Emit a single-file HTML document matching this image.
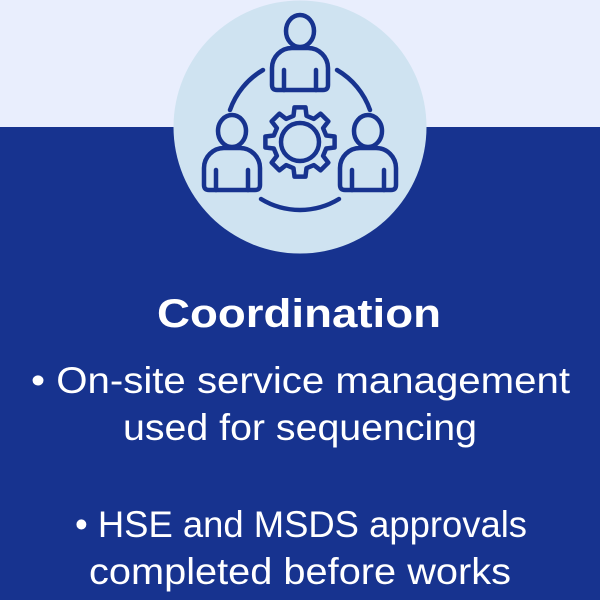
<!DOCTYPE html>
<html><head><meta charset="utf-8"><style>
html,body{margin:0;padding:0;width:600px;height:600px;overflow:hidden;background:#e9eefd}
</style></head><body>
<svg width="600" height="600" viewBox="0 0 600 600" xmlns="http://www.w3.org/2000/svg">
<rect x="0" y="0" width="600" height="127" fill="#e9eefd"/>
<rect x="0" y="127" width="600" height="473" fill="#17338f"/>
<circle cx="300" cy="127" r="126.5" fill="#cfe3f1"/>
<g fill="none" stroke="#17338f" stroke-width="4.5" stroke-linecap="round" stroke-linejoin="round">
  <g id="p">
    <ellipse cx="300" cy="31" rx="14" ry="16"/>
    <path d="M277,90 Q272,90 272,85 V68 A20,20 0 0 1 292,48 H308 A20,20 0 0 1 328,68 V85 Q328,90 323,90 Z"/>
    <line x1="284" y1="70" x2="284" y2="90"/>
    <line x1="316" y1="70" x2="316" y2="90"/>
  </g>
  <use href="#p" transform="translate(-68,100)"/>
  <use href="#p" transform="translate(68,100)"/>
  <path d="M230,110 A75,75 0 0 1 263,70"/>
  <path d="M337,70 A75,75 0 0 1 370,110"/>
  <path d="M339,199 A75,75 0 0 1 261,199"/>
  <g transform="translate(300,142)">
    <path d="M26.2,-6.5 L34.6,-5.5 L34.6,5.5 L26.2,6.5 L23.1,13.9 L28.3,20.6 L20.6,28.3 L13.9,23.1 L6.5,26.2 L5.5,34.6 L-5.5,34.6 L-6.5,26.2 L-13.9,23.1 L-20.6,28.3 L-28.3,20.6 L-23.1,13.9 L-26.2,6.5 L-34.6,5.5 L-34.6,-5.5 L-26.2,-6.5 L-23.1,-13.9 L-28.3,-20.6 L-20.6,-28.3 L-13.9,-23.1 L-6.5,-26.2 L-5.5,-34.6 L5.5,-34.6 L6.5,-26.2 L13.9,-23.1 L20.6,-28.3 L28.3,-20.6 L23.1,-13.9 Z"/>
    <circle cx="0" cy="0" r="19"/>
  </g>
</g>
<g fill="#ffffff" font-family="Liberation Sans, sans-serif">
  <text x="157" y="327" font-size="40" font-weight="bold" textLength="284" lengthAdjust="spacingAndGlyphs">Coordination</text>
  <text x="31" y="393" font-size="37" textLength="539" lengthAdjust="spacingAndGlyphs">• On-site service management</text>
  <text x="123" y="440" font-size="37" textLength="354" lengthAdjust="spacingAndGlyphs">used for sequencing</text>
  <text x="75" y="537" font-size="37" textLength="452" lengthAdjust="spacingAndGlyphs">• HSE and MSDS approvals</text>
  <text x="89" y="584" font-size="37" textLength="422" lengthAdjust="spacingAndGlyphs">completed before works</text>
</g>
</svg>
</body></html>
